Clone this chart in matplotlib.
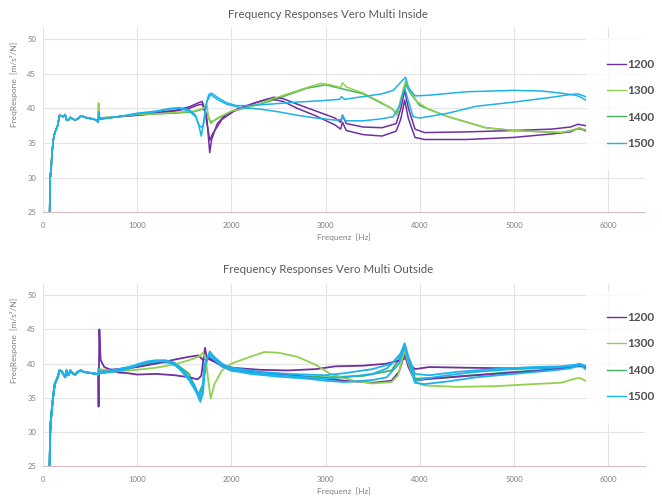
import matplotlib.pyplot as plt
from matplotlib.lines import Line2D

plt.rcParams['font.family'] = ['Lato', 'DejaVu Sans']

series = ['1200', '1300', '1400', '1500']
colors = ['#7030A0', '#92D050', '#3FB45F', '#1CB2EC']
x_ticks = [0, 1000, 2000, 3000, 4000, 5000, 6000]
y_ticks = [25, 30, 35, 40, 45, 50]

# common start of all sweeps (Hz / m/s^2/N)
low_f = [70, 76, 82, 95, 110, 125, 140, 155, 175, 195, 215, 235, 250, 270, 290,
         310, 340, 370, 400, 430, 470, 520, 570, 585]
low_in = [25.0, 30.6, 30.2, 33.5, 35.5, 36.5, 37.0, 37.5, 39.0, 38.9, 38.8, 39.1,
          38.3, 38.3, 38.7, 38.5, 38.3, 38.5, 38.9, 38.8, 38.6, 38.5, 38.3, 38.0]
low_out = [25.0, 30.0, 31.5, 33.5, 35.5, 37.0, 37.5, 38.0, 39.0, 38.9, 38.5, 38.0,
           39.0, 38.3, 39.0, 38.6, 38.4, 38.8, 39.0, 38.8, 38.7, 38.6, 38.5, 38.4]

# ---- Inside ----
in_1200a_f = [590, 650, 800, 1000, 1200, 1400, 1550, 1650, 1690, 1710, 1740, 1770, 1790, 1850,
              1950, 2100, 2300, 2450, 2550, 2700, 2900, 3100, 3160, 3180, 3220, 3400, 3600,
              3750, 3800, 3840, 3880, 3950, 4050, 4500, 5000, 5400, 5600, 5680, 5760]
in_1200a_y = [38.6, 38.6, 38.8, 39.1, 39.4, 39.7, 40.2, 40.8, 41.0, 40.2, 38.5, 33.6, 35.5, 37.8,
              39.2, 40.1, 41.0, 41.6, 41.4, 40.6, 39.6, 38.6, 38.0, 39.0, 37.8, 37.3, 37.2,
              37.8, 40.0, 42.6, 40.0, 37.0, 36.5, 36.6, 36.8, 37.0, 37.3, 37.7, 37.5]
in_1200b_f = [590, 800, 1000, 1200, 1400, 1550, 1650, 1690, 1720, 1770, 1800, 1900, 2050, 2250,
              2400, 2550, 2700, 2900, 3100, 3160, 3180, 3220, 3400, 3600, 3750, 3800, 3840,
              3880, 3950, 4050, 4500, 5000, 5400, 5600, 5680, 5760]
in_1200b_y = [38.5, 38.8, 39.0, 39.3, 39.6, 40.0, 40.5, 40.6, 39.6, 35.4, 36.3, 38.4, 39.8, 40.8,
              41.4, 41.0, 40.0, 38.9, 37.6, 37.0, 38.0, 36.8, 36.2, 36.0, 36.7, 38.5, 41.2,
              38.5, 35.8, 35.5, 35.5, 35.8, 36.3, 36.6, 37.1, 36.9]
in_1300_f = [590, 600, 650, 800, 1000, 1200, 1400, 1600, 1700, 1740, 1760, 1780, 1850, 2000,
             2200, 2400, 2600, 2800, 2950, 3050, 3160, 3180, 3220, 3400, 3600, 3720, 3760,
             3800, 3850, 3900, 3970, 4100, 4300, 4500, 4700, 5000, 5300, 5500, 5620, 5700, 5760]
in_1300_y = [40.8, 38.5, 38.7, 38.8, 39.1, 39.2, 39.4, 39.6, 40.0, 40.4, 38.5, 37.8, 38.6, 39.6,
             40.2, 41.2, 42.1, 43.0, 43.6, 43.4, 43.0, 43.7, 43.1, 42.2, 40.8, 39.8, 39.0,
             41.5, 44.0, 42.5, 41.0, 39.8, 38.8, 38.0, 37.2, 36.8, 36.6, 36.5, 36.8, 37.2, 36.8]
in_1400_f = [590, 600, 800, 1000, 1200, 1400, 1600, 1700, 1750, 1780, 1850, 2000, 2400, 2800,
             3000, 3400, 3700, 3760, 3850, 3900, 4000, 4300, 4700, 5000, 5500, 5700, 5760]
in_1400_y = [40.6, 38.4, 38.8, 39.0, 39.2, 39.3, 39.5, 39.9, 39.0, 38.0, 38.5, 39.5, 41.0, 42.9,
             43.4, 42.1, 40.0, 39.2, 43.5, 42.2, 40.4, 38.8, 37.2, 36.8, 36.5, 37.1, 36.7]
in_1500a_f = [590, 600, 800, 1000, 1200, 1350, 1450, 1550, 1620, 1660, 1680, 1700, 1730, 1760,
              1790, 1850, 1950, 2050, 2200, 2400, 2700, 2950, 3150, 3170, 3200, 3400, 3600,
              3720, 3800, 3850, 3880, 3950, 4100, 4500, 5000, 5300, 5500, 5650, 5700, 5760]
in_1500a_y = [39.5, 38.5, 38.8, 39.3, 39.6, 40.0, 40.1, 39.8, 39.0, 37.2, 36.0, 37.5, 40.5, 42.0,
              42.2, 41.6, 40.8, 40.4, 40.4, 40.6, 40.9, 41.1, 41.3, 41.7, 41.3, 41.7, 42.1,
              42.6, 43.8, 44.5, 43.0, 41.8, 41.9, 42.4, 42.6, 42.5, 42.2, 41.9, 41.7, 41.2]
in_1500b_f = [590, 800, 1000, 1200, 1350, 1450, 1550, 1620, 1660, 1690, 1710, 1740, 1780, 1850,
              1950, 2100, 2300, 2500, 2700, 2900, 3100, 3170, 3180, 3210, 3400, 3600, 3720,
              3790, 3840, 3880, 3930, 4000, 4300, 4600, 5000, 5400, 5600, 5680, 5760]
in_1500b_y = [38.4, 38.8, 39.2, 39.5, 39.9, 40.0, 39.6, 38.8, 37.5, 37.2, 38.0, 41.0, 42.0, 41.3,
              40.6, 40.1, 39.9, 39.5, 39.0, 38.6, 38.3, 38.4, 39.0, 38.2, 38.2, 38.5, 38.8,
              40.5, 43.0, 41.0, 38.8, 38.6, 39.3, 40.3, 40.9, 41.6, 42.0, 42.1, 41.7]

# ---- Outside ----
out_1200a_f = [590, 598, 612, 650, 700, 800, 900, 1000, 1200, 1400, 1550, 1640, 1680, 1720,
               1740, 1800, 1900, 2000, 2300, 2600, 2900, 3000, 3100, 3400, 3650, 3800, 3850,
               3900, 3950, 4100, 4500, 5000, 5500, 5650, 5760]
out_1200a_y = [33.7, 45.0, 40.5, 39.5, 39.2, 38.7, 38.6, 38.4, 38.5, 38.3, 38.0, 37.7, 38.2, 42.3,
               40.8, 40.4, 39.8, 39.4, 39.1, 39.0, 39.2, 39.4, 39.6, 39.7, 40.0, 40.5, 40.8,
               39.8, 39.2, 39.5, 39.4, 39.3, 39.4, 39.6, 39.6]
out_1200b_f = [600, 700, 800, 1000, 1200, 1400, 1550, 1650, 1700, 1750, 1800, 1900, 2000, 2200,
               2500, 2800, 3000, 3200, 3500, 3700, 3780, 3840, 3880, 3950, 4050, 4500, 5000,
               5400, 5600, 5700, 5760]
out_1200b_y = [38.8, 39.1, 39.2, 39.5, 40.0, 40.6, 41.0, 41.2, 40.5, 41.0, 40.5, 39.6, 39.0, 38.8,
               38.5, 38.0, 37.8, 37.5, 37.2, 37.5, 38.8, 41.5, 39.5, 37.5, 37.7, 38.2, 38.7,
               39.1, 39.5, 39.9, 39.5]
out_1300_f = [590, 600, 700, 800, 1000, 1200, 1400, 1550, 1650, 1700, 1730, 1760, 1780, 1820,
              1900, 2000, 2200, 2350, 2500, 2700, 2900, 3050, 3300, 3500, 3700, 3770, 3840,
              3880, 3950, 4050, 4400, 4800, 5200, 5500, 5650, 5700, 5760]
out_1300_y = [38.5, 39.2, 39.0, 38.9, 39.1, 39.4, 39.9, 40.5, 41.0, 41.6, 40.5, 37.0, 34.9, 37.0,
              39.0, 40.0, 41.0, 41.7, 41.6, 41.0, 39.8, 38.5, 37.5, 37.1, 37.3, 38.3, 42.0,
              40.0, 37.3, 36.8, 36.6, 36.7, 37.0, 37.2, 37.8, 37.9, 37.5]
out_1400_f = [590, 600, 800, 1000, 1200, 1400, 1550, 1650, 1700, 1740, 1780, 1900, 2200, 2600,
              3000, 3400, 3700, 3800, 3840, 3900, 3950, 4300, 5000, 5500, 5700, 5760]
out_1400_y = [39.4, 38.6, 38.9, 39.6, 40.2, 40.1, 38.5, 35.5, 37.0, 40.5, 41.5, 39.8, 38.8, 38.3,
              38.0, 38.2, 39.0, 41.0, 42.2, 40.2, 37.8, 38.0, 38.8, 39.2, 39.7, 39.4]
out_1500a_f = [590, 620, 700, 800, 900, 1000, 1100, 1200, 1300, 1380, 1450, 1550, 1620, 1660,
               1690, 1710, 1740, 1770, 1800, 1900, 2000, 2200, 2500, 2800, 3000, 3200, 3500,
               3650, 3780, 3840, 3880, 3950, 4050, 4300, 4600, 5000, 5400, 5600, 5700, 5760]
out_1500a_y = [39.2, 38.6, 38.8, 38.9, 39.2, 39.7, 40.1, 40.3, 40.4, 40.0, 39.2, 37.6, 36.0, 34.8,
               35.5, 39.5, 40.5, 41.8, 41.2, 40.0, 39.2, 38.7, 38.3, 38.0, 37.8, 38.0, 38.5,
               39.3, 41.0, 42.8, 40.5, 37.5, 37.8, 38.3, 38.8, 39.2, 39.4, 39.6, 40.0, 39.6]
out_1500b_f = [600, 700, 800, 900, 1000, 1100, 1200, 1300, 1380, 1450, 1550, 1620, 1670, 1700,
               1720, 1760, 1790, 1900, 2000, 2200, 2500, 2800, 3000, 3200, 3500, 3650, 3780,
               3840, 3880, 3950, 4050, 4300, 4600, 5000, 5400, 5600, 5700, 5760]
out_1500b_y = [38.6, 38.8, 38.9, 39.3, 39.9, 40.3, 40.5, 40.5, 40.2, 39.5, 38.0, 36.4, 34.4, 35.8,
               40.0, 41.3, 41.0, 39.6, 39.0, 38.5, 38.1, 37.8, 37.5, 37.3, 37.6, 38.0, 40.0,
               42.5, 40.5, 37.2, 37.0, 37.4, 38.0, 38.5, 39.0, 39.3, 39.8, 39.2]
out_1500c_f = [600, 700, 1000, 1200, 1300, 1400, 1500, 1600, 1660, 1700, 1730, 1770, 1850, 2000,
               2300, 2600, 3000, 3200, 3500, 3700, 3800, 3840, 3880, 3950, 4100, 4400, 4800,
               5200, 5500, 5700, 5760]
out_1500c_y = [38.7, 38.9, 39.8, 40.4, 40.3, 39.8, 38.8, 37.0, 35.2, 37.0, 40.5, 41.5, 40.2, 39.4,
               38.8, 38.5, 38.3, 38.6, 39.2, 40.0, 41.5, 43.0, 41.0, 38.5, 38.3, 38.8, 39.2,
               39.5, 39.6, 39.9, 39.7]

inside = [('1400', in_1400_f, in_1400_y), ('1200', in_1200a_f, in_1200a_y),
          ('1200', in_1200b_f, in_1200b_y), ('1300', in_1300_f, in_1300_y),
          ('1500', in_1500a_f, in_1500a_y), ('1500', in_1500b_f, in_1500b_y)]
outside = [('1400', out_1400_f, out_1400_y), ('1200', out_1200a_f, out_1200a_y),
           ('1200', out_1200b_f, out_1200b_y), ('1300', out_1300_f, out_1300_y),
           ('1500', out_1500a_f, out_1500a_y), ('1500', out_1500b_f, out_1500b_y),
           ('1500', out_1500c_f, out_1500c_y)]

fig = plt.figure(figsize=(6.62, 4.98), dpi=100)
ax1 = fig.add_axes([0.065, 0.574, 0.909, 0.371])
ax2 = fig.add_axes([0.065, 0.064, 0.909, 0.365])


def draw(ax, curves, low_y, title, title_y, top, lw, leg_y):
    for name, f, y in curves:
        ax.plot(low_f + f, low_y + y, color=colors[series.index(name)], lw=lw)
    ax.set_xlim(0, 6390)
    ax.set_ylim(25, top)
    ax.set_xticks(x_ticks)
    ax.set_yticks(y_ticks)
    ax.grid(True, color='#e4e4e4', lw=0.8)
    ax.set_axisbelow(True)
    for s in ['top', 'right', 'left']:
        ax.spines[s].set_visible(False)
    ax.spines['bottom'].set_color('#d9bcbc')
    ax.spines['bottom'].set_linewidth(0.8)
    ax.tick_params(length=0, labelsize=5.5, colors='#808080')
    ax.tick_params(axis='x', pad=7)
    ax.tick_params(axis='y', pad=5)
    ax.set_xlabel('Frequenz  [Hz]', fontsize=6, color='#808080', labelpad=3)
    ax.set_ylabel('FreqRespone  [m/s²/N]', fontsize=6, color='#808080')
    ax.yaxis.set_label_coords(-0.042, 0.69)
    fig.text(0.495, title_y, title, ha='center', va='center', fontsize=8.3, color='#595959')
    handles = [Line2D([], [], color=c, lw=1.0) for c in colors]
    leg = ax.legend(handles, series, loc='center left', bbox_to_anchor=(0.902, leg_y),
                    frameon=True, borderpad=1.8, handlelength=1.6, handletextpad=0.1,
                    labelspacing=1.3, borderaxespad=0,
                    prop={'weight': 'bold', 'size': 8.5})
    leg.get_frame().set_facecolor('white')
    leg.get_frame().set_edgecolor('none')
    for t in leg.get_texts():
        t.set_color('#505050')


draw(ax1, inside, low_in, 'Frequency Responses Vero Multi Inside', 1 - 14 / 498, 51.7, 1.1, 0.586)
draw(ax2, outside, low_out, 'Frequency Responses Vero Multi Outside', 1 - 269 / 498, 51.6, 1.3, 0.6)

fig.savefig('out.png', dpi=100)
